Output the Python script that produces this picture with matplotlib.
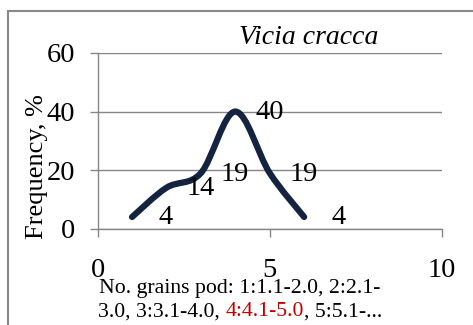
import numpy as np
import matplotlib
matplotlib.use("Agg")
import matplotlib.pyplot as plt
from matplotlib.path import Path
from matplotlib.patches import PathPatch, Rectangle
from matplotlib.offsetbox import TextArea, HPacker, VPacker, AnnotationBbox

###############################################################################
# data
###############################################################################
grainClass = [1, 2, 3, 4, 5, 6]
frequency = [4, 14, 19, 40, 19, 4]
xTicks = [0, 5, 10]
yTicks = [0, 20, 40, 60]
title = "Vicia cracca"
yName = "Frequency, %"
xLine1 = "No. grains pod: 1:1.1-2.0, 2:2.1-"
xLine2 = ["3.0, 3:3.1-4.0, ", "4:4.1-5.0", ", 5:5.1-..."]
xLine2Colors = ["black", "#c00000", "black"]

serif = "Liberation Serif"
lineColor = "#14233f"
gridColor = "#868686"


# smooth line like Excel (Catmull-Rom as cubic bezier)
def smooth_path(x, y):
    pts = np.column_stack([x, y]).astype(float)
    verts = [pts[0]]
    codes = [Path.MOVETO]
    n = len(pts)
    for i in range(n - 1):
        p0 = pts[i - 1] if i > 0 else pts[i]
        p1 = pts[i]
        p2 = pts[i + 1]
        p3 = pts[i + 2] if i + 2 < n else pts[i + 1]
        c1 = p1 + (p2 - p0) / 6.0
        c2 = p2 - (p3 - p1) / 6.0
        verts.extend([c1, c2, p2])
        codes.extend([Path.CURVE4] * 3)
    return Path(verts, codes)


fig = plt.figure(figsize=(4.73, 3.25), dpi=100)
ax = fig.add_axes([0.2065, 0.2963, 0.934 - 0.2065, 0.837 - 0.2963])

patch = PathPatch(smooth_path(grainClass, frequency), facecolor="none",
                  edgecolor=lineColor, linewidth=4.5, capstyle="round",
                  joinstyle="round", zorder=3)
ax.add_patch(patch)

for x, y in zip(grainClass, frequency):
    ax.annotate(str(y), (x, y), xytext=(34, -1), textcoords="offset pixels",
                ha="center", va="center", fontsize=20.5, family=serif,
                color="black", zorder=4)

ax.set_xlim(0, 10)
ax.set_ylim(0, 60)
ax.set_xticks(xTicks)
ax.set_yticks(yTicks)
ax.yaxis.grid(True, color=gridColor, linewidth=1.0)
ax.set_axisbelow(True)
for s in ["top", "right"]:
    ax.spines[s].set_visible(False)
for s in ["left", "bottom"]:
    ax.spines[s].set_color(gridColor)
    ax.spines[s].set_linewidth(1.0)
ax.tick_params(axis="y", direction="out", length=6, width=1.0, color=gridColor,
               pad=10, labelsize=20.5)
ax.tick_params(axis="x", direction="out", length=6, width=1.0, color=gridColor,
               pad=15, labelsize=20.5)
for lab in ax.get_xticklabels() + ax.get_yticklabels():
    lab.set_family(serif)

fig.text(309 / 473, 1 - 37 / 325, title, ha="center", va="center",
         fontsize=20, style="italic", family=serif)
fig.text(37 / 473, 1 - 167 / 325, yName, ha="center", va="center",
         rotation=90, fontsize=19, family=serif)

# two line x label, part of second line in red
row1 = TextArea(xLine1, textprops=dict(fontsize=15.7, family=serif, color="black"))
parts = [TextArea(t, textprops=dict(fontsize=15.7, family=serif, color=c))
         for t, c in zip(xLine2, xLine2Colors)]
row2 = HPacker(children=parts, pad=0, sep=0, align="baseline")
box = VPacker(children=[row1, row2], pad=0, sep=3, align="center")
ab = AnnotationBbox(box, (240 / 473, 1 - 300 / 325), xycoords="figure fraction",
                    frameon=False, box_alignment=(0.5, 0.5), pad=0)
fig.add_artist(ab)

# outer chart border, runs off right and bottom
fig.add_artist(Rectangle((8 / 473, -0.1), 1.2, 1 - 11 / 325 + 0.1,
                         transform=fig.transFigure, fill=False,
                         edgecolor="#888888", linewidth=1.5))

fig.savefig("out.png", dpi=100)
